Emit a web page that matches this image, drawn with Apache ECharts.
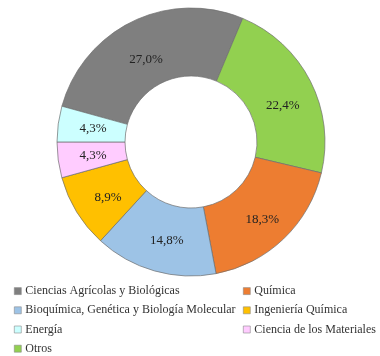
<!DOCTYPE html>
<html><head><meta charset="utf-8">
<script src="https://cdn.jsdelivr.net/npm/echarts@6/dist/echarts.min.js"></script>
<style>html,body{margin:0;padding:0;background:#fff}#c{width:380px;height:356px}</style>
</head><body><div id="c"></div>
<script>
// Slices in clockwise order starting with Ciencias Agrícolas y Biológicas
const categories = ["Ciencias Agrícolas y Biológicas","Otros","Química","Bioquímica, Genética y Biología Molecular","Ingeniería Química","Ciencia de los Materiales","Energía"];
const values = [27.0, 22.4, 18.3, 14.8, 8.9, 4.3, 4.3];
const labels = ["27,0%","22,4%","18,3%","14,8%","8,9%","4,3%","4,3%"];
const colors = ["#7F7F7F","#92D050","#ED7D31","#9DC3E6","#FFC000","#FFCCFF","#CCFFFF"];
const legendLeft = ["Ciencias Agrícolas y Biológicas","Bioquímica, Genética y Biología Molecular","Energía","Otros"];
const legendRight = ["Química","Ingeniería Química","Ciencia de los Materiales"];

// label nudges (style only)
const labelOffsets = [[0,10],[0,10],[0,3],[4,-1],[5,2],[4,0],[4,0]];

const font = "'Liberation Serif', 'DejaVu Serif', serif";
const data = categories.map((n,i)=>({name:n,value:values[i],
  label:{formatter:labels[i],offset:labelOffsets[i]},itemStyle:{color:colors[i]}}));
const legendCommon = {orient:'vertical',itemWidth:7,itemHeight:7,itemGap:7,icon:'rect',padding:0,
  itemStyle:{borderColor:'#8a8a8a',borderWidth:0.6},
  textStyle:{fontFamily:font,fontSize:12,color:'#333',lineHeight:12.2,padding:[0,0,0,-1]},selectedMode:false};
const chart = echarts.init(document.getElementById('c'));
chart.setOption({
  animation:false,
  legend:[
    Object.assign({},legendCommon,{data:legendLeft,left:14,top:285}),
    Object.assign({},legendCommon,{data:legendRight,left:243,top:285})
  ],
  series:[{
    type:'pie',
    center:[191,142],
    radius:[66,134],
    startAngle:164.5,
    clockwise:true,
    avoidLabelOverlap:false,
    itemStyle:{borderColor:'#6f6f6f',borderWidth:0.7},
    label:{show:true,position:'inside',fontFamily:font,fontSize:13,color:'#222'},
    labelLine:{show:false},
    emphasis:{disabled:true},
    data:data
  }]
});
</script></body></html>
